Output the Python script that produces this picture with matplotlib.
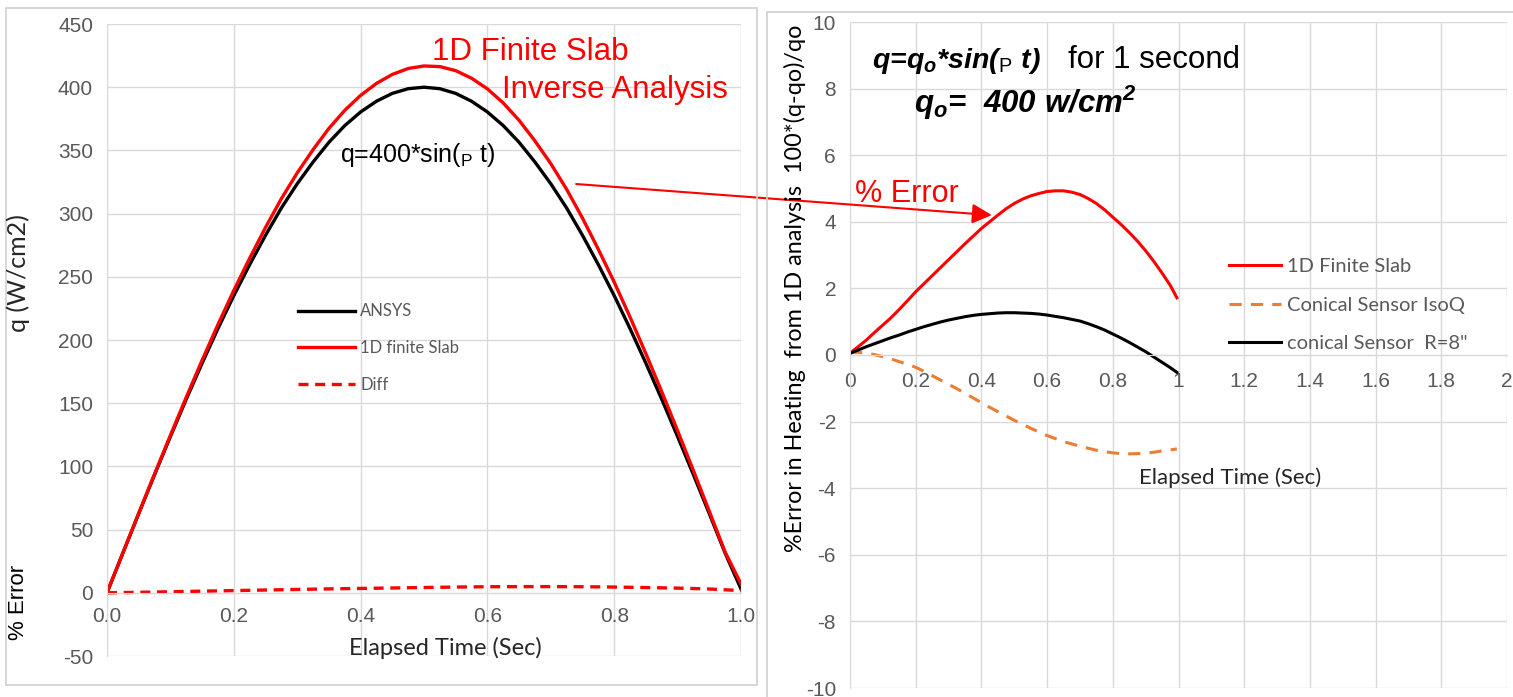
import matplotlib.pyplot as plt
from matplotlib.patches import Rectangle

plt.rcParams['mathtext.fontset'] = 'custom'
plt.rcParams['mathtext.rm'] = 'Liberation Sans'
plt.rcParams['mathtext.it'] = 'Liberation Sans:italic'
plt.rcParams['mathtext.bf'] = 'Liberation Sans:bold:italic'
plt.rcParams['axes.unicode_minus'] = False

# ---- left chart: heat flux vs time (sampled every 0.025 s)
t_left = [0.0, 0.025, 0.05, 0.075, 0.1, 0.125, 0.15, 0.175, 0.2, 0.225, 0.25,
          0.275, 0.3, 0.325, 0.35, 0.375, 0.4, 0.425, 0.45, 0.475, 0.5,
          0.525, 0.55, 0.575, 0.6, 0.625, 0.65, 0.675, 0.7, 0.725, 0.75,
          0.775, 0.8, 0.825, 0.85, 0.875, 0.9, 0.925, 0.95, 0.975, 1.0]
q_ansys = [0, 31.4, 62.6, 93.4, 123.6, 153.1, 181.6, 209.0, 235.1, 259.6, 282.8,
           304.4, 323.6, 340.8, 356.4, 369.6, 380.4, 388.9, 395.1, 398.8, 400.0,
           398.8, 395.1, 388.9, 380.4, 369.6, 356.4, 340.8, 323.6, 304.4, 282.8,
           259.6, 235.1, 209.0, 181.6, 153.1, 123.6, 93.4, 62.6, 31.4, 3.0]
q_slab = [0, 31.5, 62.9, 94.0, 124.6, 154.7, 184.0, 212.2, 239.2, 264.7, 289.0,
          311.8, 332.2, 350.6, 367.4, 381.7, 393.5, 403.0, 410.1, 414.8, 416.8,
          416.3, 413.1, 407.1, 398.7, 387.5, 373.8, 357.5, 339.5, 319.2, 296.4,
          271.7, 245.8, 218.1, 189.1, 159.1, 128.2, 96.6, 64.5, 32.2, 7.0]
q_diff = [0, 0.2, 0.4, 0.6, 0.8, 1.05, 1.3, 1.52, 1.75, 1.98, 2.2,
          2.42, 2.65, 2.88, 3.1, 3.28, 3.45, 3.63, 3.8, 4.0, 4.2,
          4.38, 4.55, 4.68, 4.8, 4.84, 4.87, 4.89, 4.9, 4.86, 4.8,
          4.68, 4.55, 4.35, 4.15, 3.93, 3.7, 3.38, 3.0, 2.4, 1.7]

# ---- right chart: % error vs time
t_right = [0.0, 0.025, 0.05, 0.075, 0.1, 0.125, 0.15, 0.175, 0.2, 0.225, 0.25,
           0.275, 0.3, 0.325, 0.35, 0.375, 0.4, 0.425, 0.45, 0.475, 0.5,
           0.525, 0.55, 0.575, 0.6, 0.625, 0.65, 0.675, 0.7, 0.725, 0.75,
           0.775, 0.8, 0.825, 0.85, 0.875, 0.9, 0.925, 0.95, 0.975, 0.995]
err_slab = [0.05, 0.25, 0.45, 0.68, 0.9, 1.12, 1.37, 1.63, 1.9, 2.14, 2.38,
            2.62, 2.86, 3.1, 3.34, 3.57, 3.8, 4.0, 4.2, 4.39, 4.55,
            4.68, 4.78, 4.85, 4.91, 4.93, 4.93, 4.89, 4.82, 4.7, 4.55,
            4.36, 4.14, 3.92, 3.68, 3.42, 3.13, 2.81, 2.46, 2.09, 1.72]
err_isoq = [0.08, 0.08, 0.06, 0.01, -0.05, -0.12, -0.2, -0.28, -0.37, -0.49, -0.62,
            -0.75, -0.88, -1.01, -1.15, -1.29, -1.43, -1.57, -1.7, -1.83, -1.96,
            -2.08, -2.2, -2.31, -2.42, -2.51, -2.6, -2.67, -2.74, -2.8, -2.86,
            -2.9, -2.94, -2.96, -2.97, -2.96, -2.95, -2.92, -2.88, -2.85, -2.82]
err_r8 = [0.05, 0.15, 0.25, 0.34, 0.43, 0.52, 0.6, 0.69, 0.77, 0.85, 0.92,
          0.99, 1.05, 1.1, 1.15, 1.19, 1.22, 1.24, 1.26, 1.27, 1.27,
          1.26, 1.25, 1.23, 1.2, 1.16, 1.12, 1.07, 1.02, 0.94, 0.85,
          0.75, 0.63, 0.51, 0.38, 0.24, 0.1, -0.06, -0.22, -0.38, -0.52]

left_xticks = [0.0, 0.2, 0.4, 0.6, 0.8, 1.0]
left_yticks = [-50, 0, 50, 100, 150, 200, 250, 300, 350, 400, 450]
right_xticks = [0, 0.2, 0.4, 0.6, 0.8, 1, 1.2, 1.4, 1.6, 1.8, 2]
right_yticks = [-10, -8, -6, -4, -2, 0, 2, 4, 6, 8, 10]

W, H = 1513, 697
fig = plt.figure(figsize=(W / 100, H / 100), dpi=100)

tick_font = ['Liberation Sans Narrow', 'Liberation Sans', 'DejaVu Sans']
label_font = ['Lato', 'DejaVu Sans']
gray = '#595959'
grid_c = '#d9d9d9'

# panel borders
fig.patches.append(Rectangle((6 / W, 1 - 685 / H), 751 / W, 677 / H, transform=fig.transFigure,
                             fill=False, edgecolor='#d0d0d0', lw=1.2))
fig.patches.append(Rectangle((767 / W, -0.01), 1.0, 1 - 12 / H + 0.01, transform=fig.transFigure,
                             fill=False, edgecolor='#d0d0d0', lw=1.2))


def style_axes(ax):
    for s in ['top', 'right']:
        ax.spines[s].set_visible(False)
    ax.spines['left'].set_color(grid_c)
    ax.spines['bottom'].set_color(grid_c)
    ax.spines['bottom'].set_position(('data', 0))
    ax.grid(True, color=grid_c, lw=1.0)
    ax.set_axisbelow(True)
    ax.tick_params(length=0, colors=gray, labelsize=15)
    for lab in ax.get_xticklabels() + ax.get_yticklabels():
        lab.set_family(tick_font)


ax1 = fig.add_axes([107 / W, 1 - 656 / H, 634 / W, 632 / H])
ax1.plot(t_left, q_ansys, color='black', lw=2.4, label='ANSYS')
ax1.plot(t_left, q_slab, color='red', lw=2.4, label='1D finite Slab')
ax1.plot(t_left, q_diff, color='red', lw=2.4, ls=(0, (3, 2)), label='Diff')
ax1.set_xlim(0, 1.0)
ax1.set_ylim(-50, 450)
ax1.set_xticks(left_xticks)
ax1.set_xticklabels([f'{v:.1f}' for v in left_xticks])
ax1.set_yticks(left_yticks)
style_axes(ax1)
ax1.tick_params(axis='x', pad=10)
ax1.tick_params(axis='y', pad=10)
leg1 = ax1.legend(loc='center left', bbox_to_anchor=(0.302, 0.487), frameon=False,
                  handlelength=3.4, handletextpad=0.3, labelspacing=1.25,
                  borderpad=0, borderaxespad=0, prop={'family': label_font, 'size': 12})
for txt in leg1.get_texts():
    txt.set_color(gray)

ax1.text(0.513, 421.5, '1D Finite Slab', color='red', fontsize=22.5, family='Liberation Sans', va='baseline')
ax1.text(0.623, 391.5, 'Inverse Analysis', color='red', fontsize=22.5, family='Liberation Sans', va='baseline')
ax1.text(0.3675, 341, r'q=400*sin($_{\mathrm{P}}$ t)', color='black', fontsize=18,
         family='Liberation Sans', va='baseline')

ax2 = fig.add_axes([850 / W, 1 - 688 / H, 657 / W, 666 / H])
ax2.plot(t_right, err_slab, color='red', lw=2.2, label='1D Finite Slab')
ax2.plot(t_right, err_isoq, color='#ed7d31', lw=2.2, ls=(0, (4, 3)), label='Conical Sensor IsoQ')
ax2.plot(t_right, err_r8, color='black', lw=2.2, label='conical Sensor  R=8"')
ax2.set_xlim(0, 2)
ax2.set_ylim(-10, 10)
ax2.set_xticks(right_xticks)
ax2.set_xticklabels([f'{v:g}' for v in right_xticks])
ax2.set_yticks(right_yticks)
style_axes(ax2)
ax2.tick_params(axis='x', pad=12)
ax2.tick_params(axis='y', pad=10)
leg2 = ax2.legend(loc='center left', bbox_to_anchor=(0.577, 0.575), frameon=False,
                  handlelength=2.6, handletextpad=0.3, labelspacing=1.05,
                  borderpad=0, borderaxespad=0, prop={'family': label_font, 'size': 14.5})
for txt in leg2.get_texts():
    txt.set_color(gray)

ax2.text(0.067, 8.62, r'q=q$_\mathbf{o}$*sin($_{\mathrm{P}}$ t)', fontsize=20.5, family='Liberation Sans',
         style='italic', weight='bold', va='baseline')
ax2.text(0.664, 8.62, 'for 1 second', fontsize=22.5, family='Liberation Sans', va='baseline')
ax2.text(0.195, 7.27, r'q$_\mathbf{o}$=  400 w/cm$^\mathbf{2}$', fontsize=22.5, family='Liberation Sans',
         style='italic', weight='bold', va='baseline')
ax2.text(0.015, 4.6, '% Error', color='red', fontsize=22, family='Liberation Sans', va='baseline')

ax2.annotate('', xy=(0.432, 4.2), xycoords='data', xytext=(0.740, 323.4), textcoords=ax1.transData,
             arrowprops=dict(arrowstyle='-|>', color='red', lw=1.5, mutation_scale=30,
                             shrinkA=0, shrinkB=0), annotation_clip=False, zorder=10)

# axis titles
fig.text(445 / W, 1 - 648 / H, 'Elapsed Time (Sec)', ha='center', va='center', fontsize=17,
         family=label_font, color='#262626')
fig.text(1230 / W, 1 - 478 / H, 'Elapsed Time (Sec)', ha='center', va='center', fontsize=16,
         family=label_font, color='#262626')
fig.text(18 / W, 1 - 273 / H, 'q (W/cm2)', rotation=90, ha='center', va='center', fontsize=18,
         family=label_font, color='#262626')
fig.text(18 / W, 1 - 602 / H, '% Error', rotation=90, ha='center', va='center', fontsize=16,
         family='Liberation Sans', color='black')
fig.text(795 / W, 1 - 288 / H, '%Error in Heating  from 1D analysis  100*(q-qo)/qo', rotation=90,
         ha='center', va='center', fontsize=16.8, family=label_font, color='black')

fig.savefig('out.png', dpi=100)
